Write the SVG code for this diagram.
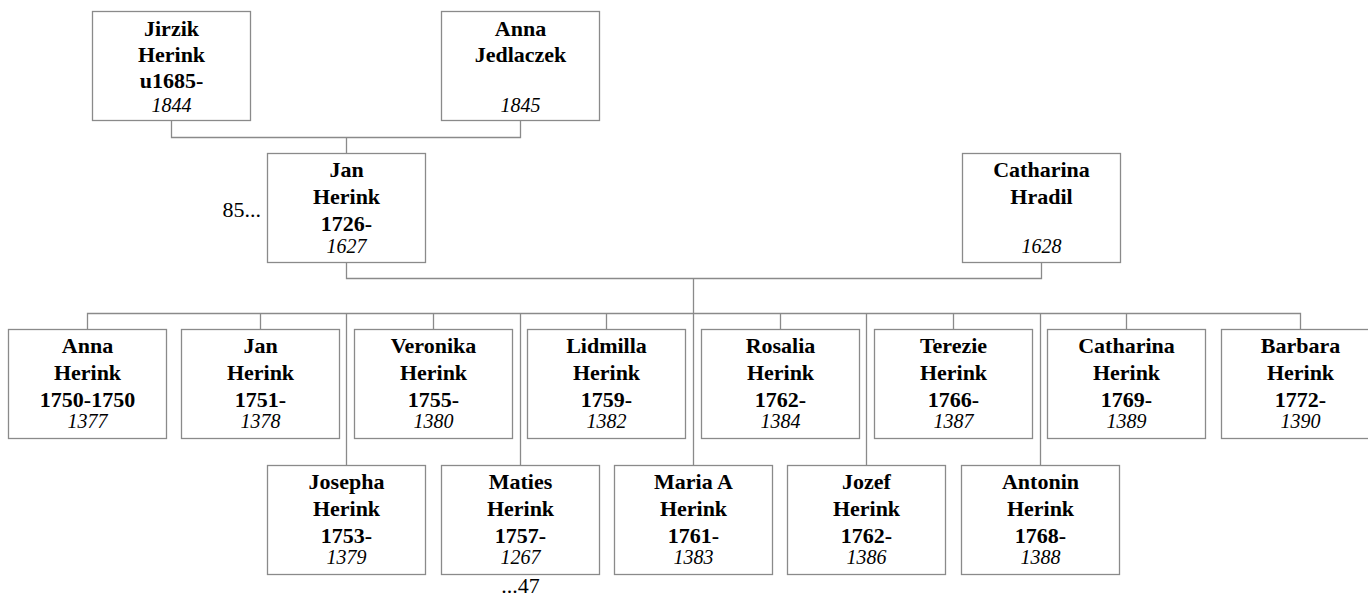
<svg xmlns="http://www.w3.org/2000/svg" width="1368" height="596" viewBox="0 0 1368 596">
<style>
.box{fill:#fff;stroke:#8a8a8a;stroke-width:1.3}
.ln{fill:none;stroke:#8a8a8a;stroke-width:1.3}
.n{font-family:"Liberation Serif","Times New Roman",serif;font-weight:bold;font-size:22px;text-anchor:middle;fill:#000}
.i{font-family:"Liberation Serif","Times New Roman",serif;font-style:italic;font-size:20px;text-anchor:middle;fill:#000}
.r{font-family:"Liberation Serif","Times New Roman",serif;font-size:22px;fill:#000}
</style>
<rect width="1368" height="596" fill="#fff"/>
<g id="connectors">
<path class="ln" d="M171.5 121V137.5H520.5V121M346.5 137.5V153"/>
<path class="ln" d="M346.5 262V278.5H1041.5V262M693.5 278.5V465"/>
<path class="ln" d="M87.5 329V313.5H1300.5V329M260.5 313.5V329M433.5 313.5V329M606.5 313.5V329M780.5 313.5V329M953.5 313.5V329M1126.5 313.5V329"/>
<path class="ln" d="M346.5 313.5V465M520.5 313.5V465M866.5 313.5V465M1040.5 313.5V465"/>
</g>
<g id="jirzik"><rect class="box" x="92.5" y="11.5" width="158" height="109"/><text class="n" x="171.5" y="36">Jirzik</text><text class="n" x="171.5" y="62">Herink</text><text class="n" x="171.5" y="88">u1685-</text><text class="i" x="171.5" y="112">1844</text></g>
<g id="annaj"><rect class="box" x="441.5" y="11.5" width="158" height="109"/><text class="n" x="520.5" y="36">Anna</text><text class="n" x="520.5" y="62">Jedlaczek</text><text class="i" x="520.5" y="112">1845</text></g>
<g id="jan"><rect class="box" x="267.5" y="153.5" width="158" height="109"/><text class="n" x="346.5" y="177">Jan</text><text class="n" x="346.5" y="204">Herink</text><text class="n" x="346.5" y="231">1726-</text><text class="i" x="346.5" y="253">1627</text><text class="r" x="261" y="217" text-anchor="end">85...</text></g>
<g id="catharinah"><rect class="box" x="962.5" y="153.5" width="158" height="109"/><text class="n" x="1041.5" y="177">Catharina</text><text class="n" x="1041.5" y="204">Hradil</text><text class="i" x="1041.5" y="253">1628</text></g>
<g id="c1"><rect class="box" x="8.5" y="329.5" width="158" height="109"/><text class="n" x="87.5" y="353">Anna</text><text class="n" x="87.5" y="380">Herink</text><text class="n" x="87.5" y="407">1750-1750</text><text class="i" x="87.5" y="428">1377</text></g>
<g id="c2"><rect class="box" x="181.5" y="329.5" width="158" height="109"/><text class="n" x="260.5" y="353">Jan</text><text class="n" x="260.5" y="380">Herink</text><text class="n" x="260.5" y="407">1751-</text><text class="i" x="260.5" y="428">1378</text></g>
<g id="c3"><rect class="box" x="354.5" y="329.5" width="158" height="109"/><text class="n" x="433.5" y="353">Veronika</text><text class="n" x="433.5" y="380">Herink</text><text class="n" x="433.5" y="407">1755-</text><text class="i" x="433.5" y="428">1380</text></g>
<g id="c4"><rect class="box" x="527.5" y="329.5" width="158" height="109"/><text class="n" x="606.5" y="353">Lidmilla</text><text class="n" x="606.5" y="380">Herink</text><text class="n" x="606.5" y="407">1759-</text><text class="i" x="606.5" y="428">1382</text></g>
<g id="c5"><rect class="box" x="701.5" y="329.5" width="158" height="109"/><text class="n" x="780.5" y="353">Rosalia</text><text class="n" x="780.5" y="380">Herink</text><text class="n" x="780.5" y="407">1762-</text><text class="i" x="780.5" y="428">1384</text></g>
<g id="c6"><rect class="box" x="874.5" y="329.5" width="158" height="109"/><text class="n" x="953.5" y="353">Terezie</text><text class="n" x="953.5" y="380">Herink</text><text class="n" x="953.5" y="407">1766-</text><text class="i" x="953.5" y="428">1387</text></g>
<g id="c7"><rect class="box" x="1047.5" y="329.5" width="158" height="109"/><text class="n" x="1126.5" y="353">Catharina</text><text class="n" x="1126.5" y="380">Herink</text><text class="n" x="1126.5" y="407">1769-</text><text class="i" x="1126.5" y="428">1389</text></g>
<g id="c8"><rect class="box" x="1221.5" y="329.5" width="158" height="109"/><text class="n" x="1300.5" y="353">Barbara</text><text class="n" x="1300.5" y="380">Herink</text><text class="n" x="1300.5" y="407">1772-</text><text class="i" x="1300.5" y="428">1390</text></g>
<g id="d1"><rect class="box" x="267.5" y="465.5" width="158" height="109"/><text class="n" x="346.5" y="489">Josepha</text><text class="n" x="346.5" y="516">Herink</text><text class="n" x="346.5" y="543">1753-</text><text class="i" x="346.5" y="564">1379</text></g>
<g id="d2"><rect class="box" x="441.5" y="465.5" width="158" height="109"/><text class="n" x="520.5" y="489">Maties</text><text class="n" x="520.5" y="516">Herink</text><text class="n" x="520.5" y="543">1757-</text><text class="i" x="520.5" y="564">1267</text><text class="r" x="520.5" y="593" text-anchor="middle">...47</text></g>
<g id="d3"><rect class="box" x="614.5" y="465.5" width="158" height="109"/><text class="n" x="693.5" y="489">Maria A</text><text class="n" x="693.5" y="516">Herink</text><text class="n" x="693.5" y="543">1761-</text><text class="i" x="693.5" y="564">1383</text></g>
<g id="d4"><rect class="box" x="787.5" y="465.5" width="158" height="109"/><text class="n" x="866.5" y="489">Jozef</text><text class="n" x="866.5" y="516">Herink</text><text class="n" x="866.5" y="543">1762-</text><text class="i" x="866.5" y="564">1386</text></g>
<g id="d5"><rect class="box" x="961.5" y="465.5" width="158" height="109"/><text class="n" x="1040.5" y="489">Antonin</text><text class="n" x="1040.5" y="516">Herink</text><text class="n" x="1040.5" y="543">1768-</text><text class="i" x="1040.5" y="564">1388</text></g>
</svg>
